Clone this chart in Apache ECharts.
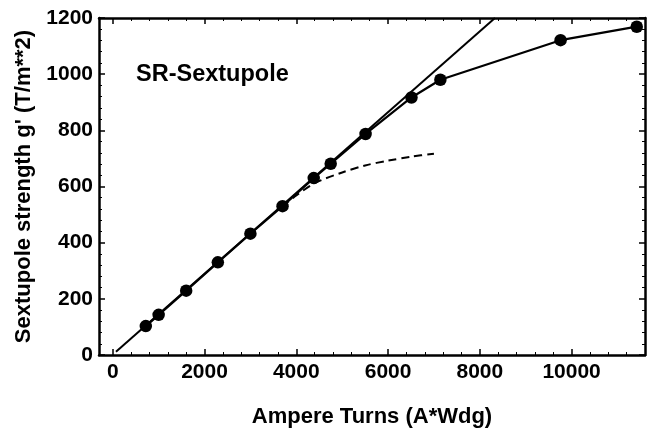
<!DOCTYPE html>
<html>
<head>
<meta charset="utf-8">
<script src="https://cdn.jsdelivr.net/npm/echarts@6/dist/echarts.min.js"></script>
<style>html,body{margin:0;padding:0;background:#fff}#c{width:649px;height:433px}</style>
</head>
<body>
<div id="c"></div>
<script>
// Measured data (Ampere turns vs sextupole strength)
const ampereTurns = [720, 1000, 1600, 2290, 3000, 3700, 4380, 4750, 5510, 6510, 7140, 9760, 11420];
const strength    = [103, 143, 229, 330, 432, 530, 630, 681, 787, 917, 980, 1121, 1169];
// Linear fit line
const fitX = [70, 8330];
const fitY = [12, 1200];
// Dashed (calculated) curve
const dashX = [3700, 4000, 4400, 5000, 5500, 6000, 6500, 7000];
const dashY = [530, 568, 612, 650, 675, 692, 706, 717];
// Tick labels
const xMajor = [0, 2000, 4000, 6000, 8000, 10000];
const xMinor = [];
for (let v = 0; v <= 11600; v += 400) { if (v % 2000 !== 0) xMinor.push(v); }

const FONT = 'Liberation Sans, Arial, sans-serif';
const zip = (a, b) => a.map((v, i) => [v, b[i]]);
const plain = v => String(v);

const xBase = {
  type: 'value', min: -300, max: 11600, gridIndex: 0,
  splitLine: { show: false }
};
const chart = echarts.init(document.getElementById('c'));
chart.setOption({
  animation: false,
  backgroundColor: '#fff',
  title: {
    text: 'SR-Sextupole', left: 136, top: 63, padding: 0,
    textStyle: { fontFamily: FONT, fontSize: 23.5, fontWeight: 'bold', color: '#000' }
  },
  grid: { left: 99, right: 4, top: 18, bottom: 77, containLabel: false },
  xAxis: [
    Object.assign({}, xBase, {
      position: 'bottom',
      name: 'Ampere Turns (A*Wdg)', nameLocation: 'middle', nameGap: 51,
      nameTextStyle: { fontFamily: FONT, fontSize: 22, fontWeight: 'bold', color: '#000' },
      axisLine: { show: true, onZero: false, lineStyle: { color: '#000', width: 2.5 } },
      axisTick: { show: true, inside: true, length: 6, customValues: xMajor, lineStyle: { color: '#000', width: 1.5 } },
      axisLabel: { show: true, customValues: xMajor, formatter: plain, margin: 7, fontFamily: FONT, fontSize: 21, fontWeight: 'bold', color: '#000' }
    }),
    Object.assign({}, xBase, {
      position: 'bottom',
      axisLine: { show: false, onZero: false },
      axisTick: { show: true, inside: true, length: 3, customValues: xMinor, lineStyle: { color: '#000', width: 1 } },
      axisLabel: { show: false }
    }),
    Object.assign({}, xBase, {
      position: 'top',
      axisLine: { show: true, onZero: false, lineStyle: { color: '#000', width: 2.5 } },
      axisTick: { show: true, inside: true, length: 6, customValues: xMajor, lineStyle: { color: '#000', width: 1.5 } },
      axisLabel: { show: false }
    }),
    Object.assign({}, xBase, {
      position: 'top',
      axisLine: { show: false, onZero: false },
      axisTick: { show: true, inside: true, length: 3, customValues: xMinor, lineStyle: { color: '#000', width: 1 } },
      axisLabel: { show: false }
    })
  ],
  yAxis: [
    {
      type: 'value', min: 0, max: 1200, interval: 200, position: 'left',
      name: "Sextupole strength g' (T/m**2)", nameLocation: 'middle', nameGap: 49,
      nameTextStyle: { fontFamily: FONT, fontSize: 22, fontWeight: 'bold', color: '#000' },
      splitLine: { show: false },
      axisLine: { show: true, onZero: false, lineStyle: { color: '#000', width: 2.5 } },
      axisTick: { show: true, inside: true, length: 6, lineStyle: { color: '#000', width: 1.5 } },
      minorTick: { show: true, splitNumber: 5, length: 3, lineStyle: { color: '#000', width: 1 } },
      axisLabel: { margin: 6, formatter: plain, fontFamily: FONT, fontSize: 21, fontWeight: 'bold', color: '#000' }
    },
    {
      type: 'value', min: 0, max: 1200, interval: 200, position: 'right',
      splitLine: { show: false },
      axisLine: { show: true, onZero: false, lineStyle: { color: '#000', width: 2.5 } },
      axisTick: { show: true, inside: true, length: 6, lineStyle: { color: '#000', width: 1.5 } },
      minorTick: { show: true, splitNumber: 5, length: 3, lineStyle: { color: '#000', width: 1 } },
      axisLabel: { show: false }
    }
  ],
  series: [
    {
      type: 'line', data: zip(fitX, fitY), xAxisIndex: 0, yAxisIndex: 0,
      showSymbol: false, symbol: 'none', lineStyle: { color: '#000', width: 2 }, z: 2
    },
    {
      type: 'line', data: zip(dashX, dashY), xAxisIndex: 0, yAxisIndex: 0, smooth: 0.3,
      showSymbol: false, symbol: 'none', lineStyle: { color: '#000', width: 2, type: [8, 5] }, z: 2
    },
    {
      type: 'line', data: zip(ampereTurns, strength), xAxisIndex: 0, yAxisIndex: 0,
      symbol: 'circle', symbolSize: 12.5, itemStyle: { color: '#000' },
      lineStyle: { color: '#000', width: 2.2 }, z: 3
    }
  ]
});
</script>
</body>
</html>
